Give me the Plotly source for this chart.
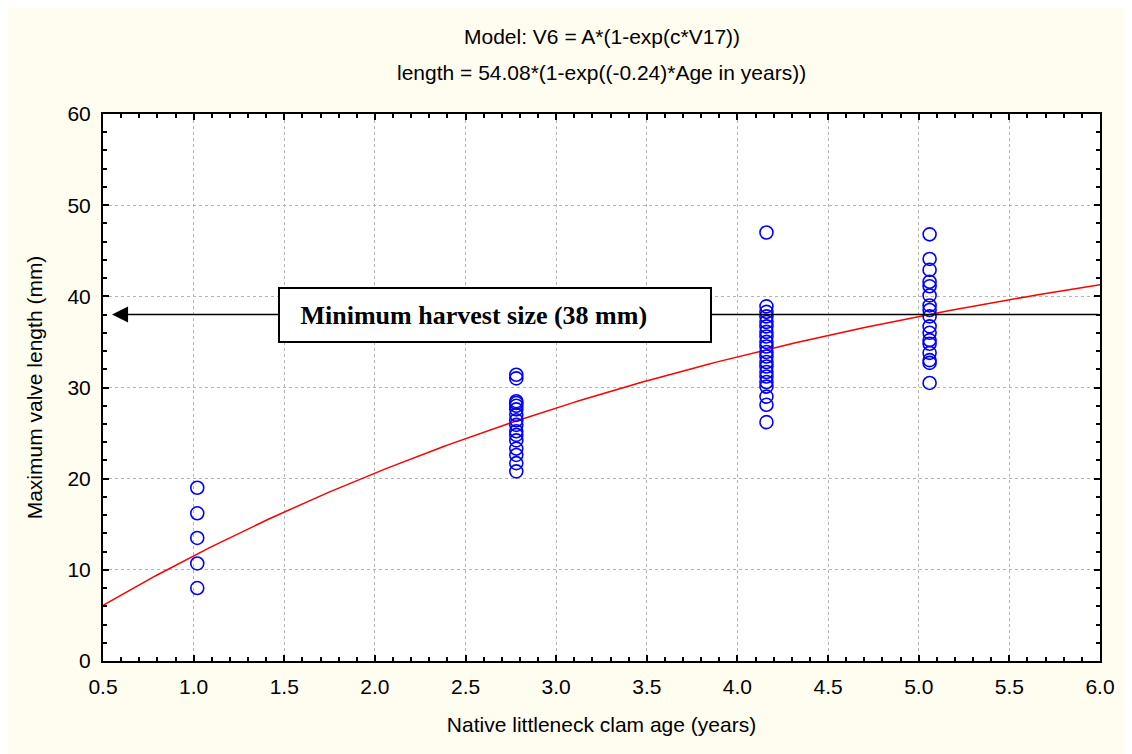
import numpy as np
import plotly.graph_objects as go

# fitted model: length = A*(1-exp(c*age))
A = 54.08
c = -0.24

age_1 = [1.02] * 5
len_1 = [19.0, 16.2, 13.5, 10.7, 8.0]

age_3 = [2.78] * 16
len_3 = [31.4, 31.0, 28.5, 28.3, 28.0, 27.6, 27.0, 26.4, 25.9, 25.2, 24.8,
         24.2, 23.3, 22.6, 21.7, 20.8]

age_4 = [4.16] * 21
len_4 = [47.0, 38.9, 38.3, 37.8, 37.2, 36.7, 36.1, 35.6, 35.0, 34.5, 33.9,
         33.4, 32.8, 32.3, 31.7, 31.2, 30.6, 30.1, 29.0, 28.1, 26.2]

age_5 = [5.06] * 17
len_5 = [46.8, 44.1, 42.9, 41.6, 41.1, 40.1, 39.0, 38.5, 37.8, 36.7, 36.0,
         35.2, 34.8, 33.8, 33.0, 32.7, 30.5]

min_harvest = 38

ages = age_1 + age_3 + age_4 + age_5
lengths = len_1 + len_3 + len_4 + len_5

curve_x = np.linspace(0.5, 6.0, 200)
curve_y = A * (1 - np.exp(c * curve_x))

fig = go.Figure()

fig.add_trace(go.Scatter(
    x=curve_x, y=curve_y, mode='lines',
    line=dict(color='#ff0000', width=1.5),
    hoverinfo='skip', showlegend=False
))

fig.add_trace(go.Scatter(
    x=ages, y=lengths, mode='markers',
    marker=dict(symbol='circle-open', size=13, color='#0000ff',
                line=dict(width=1.6, color='#0000ff')),
    showlegend=False
))

# horizontal minimum size line with arrow to the left
fig.add_annotation(
    x=0.55, y=min_harvest, ax=6.0, ay=min_harvest,
    xref='x', yref='y', axref='x', ayref='y',
    text='', showarrow=True, arrowhead=2, arrowsize=2,
    arrowwidth=1.6, arrowcolor='black'
)

fig.add_annotation(
    x=2.665, y=min_harvest, xref='x', yref='y',
    text='&nbsp;&nbsp;&nbsp;<b>Minimum harvest size (38 mm)</b>', showarrow=False,
    font=dict(family='Liberation Serif, Times New Roman, serif', size=26, color='black'),
    bgcolor='white', bordercolor='black', borderwidth=2,
    width=428, height=50, align='left', borderpad=1
)

fig.add_annotation(
    x=0.5, y=1.0, xref='paper', yref='paper', yshift=78, yanchor='middle',
    text='Model: V6 = A*(1-exp(c*V17))', showarrow=False,
    font=dict(size=21)
)
fig.add_annotation(
    x=0.5, y=1.0, xref='paper', yref='paper', yshift=42, yanchor='middle',
    text='length = 54.08*(1-exp((-0.24)*Age in years))', showarrow=False,
    font=dict(size=21)
)

axis_common = dict(
    showline=True, linecolor='black', linewidth=2, mirror='ticks',
    ticks='inside', ticklen=6, tickwidth=1.5, tickcolor='black',
    showgrid=True, gridcolor='#b4b4b4', griddash='dot', gridwidth=1,
    zeroline=False, tickfont=dict(size=21, color='black'),
)

fig.update_xaxes(
    range=[0.5, 6.0], dtick=0.5, tick0=0.5, tickformat='.1f',
    ticklabelstandoff=6,
    title=dict(text='Native littleneck clam age (years)', font=dict(size=21), standoff=20),
    minor=dict(dtick=0.1, ticks='inside', ticklen=4, tickcolor='black', showgrid=False),
    **axis_common
)
fig.update_yaxes(
    range=[0, 60], dtick=10,
    ticklabelstandoff=6,
    title=dict(text='Maximum valve length (mm)', font=dict(size=21), standoff=19),
    minor=dict(dtick=2, ticks='inside', ticklen=4, tickcolor='black', showgrid=False),
    **axis_common
)

fig.update_layout(
    width=1132, height=754,
    margin=dict(l=95, r=40, t=106, b=101),
    paper_bgcolor='#fffdf0', plot_bgcolor='white',
    font=dict(family='Liberation Sans, Arial, sans-serif', color='black'),
)

fig.write_html("out.html")
